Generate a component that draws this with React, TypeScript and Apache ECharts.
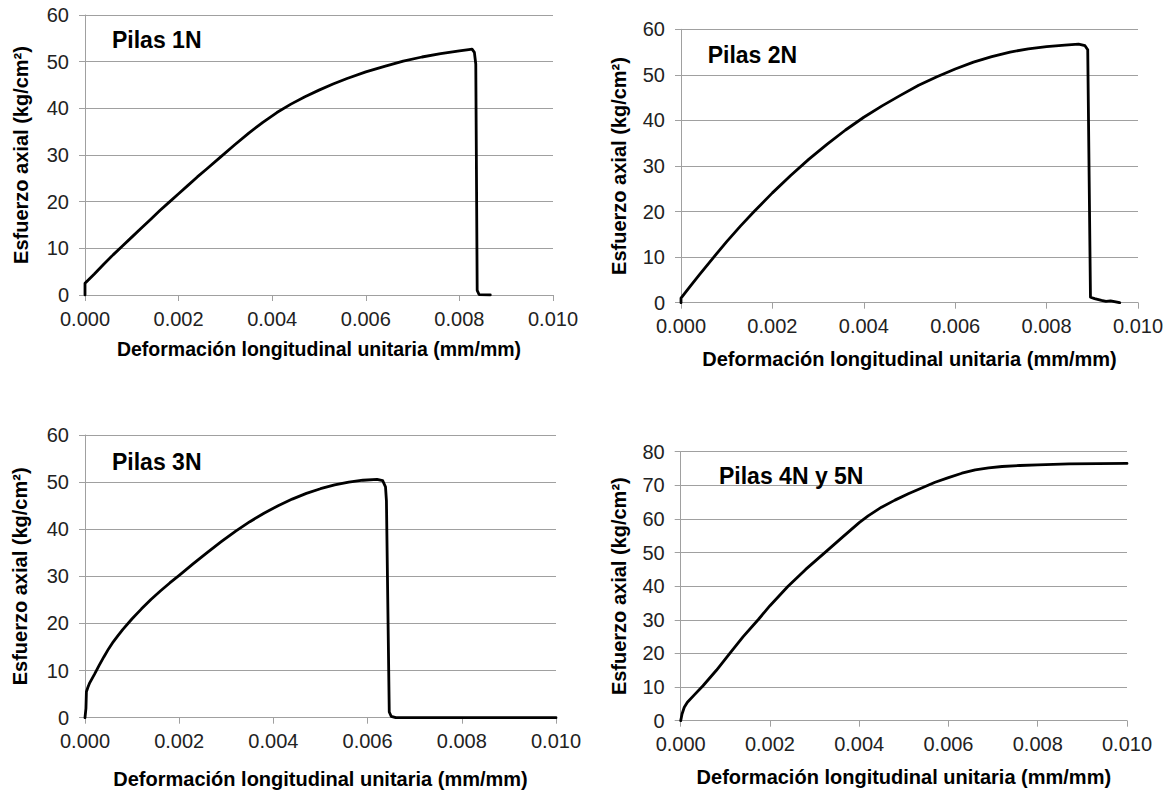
import React, { useEffect, useRef } from "react";
import * as echarts from "echarts";

// Deformación longitudinal unitaria (mm/mm) vs Esfuerzo axial (kg/cm²)
const pilas1N: [number, number][] = [
  [0, 0], [0, 2.5], [0.0002, 4.5], [0.0004, 6.6], [0.0006, 8.6], [0.0008, 10.5],
  [0.001, 12.4], [0.0012, 14.3], [0.0014, 16.2], [0.0016, 18.1], [0.0018, 19.9],
  [0.002, 21.7], [0.0022, 23.5], [0.0024, 25.3], [0.0026, 27.0], [0.0029, 29.6],
  [0.0032, 32.2], [0.0035, 34.7], [0.0038, 37.0], [0.0041, 39.1], [0.0044, 40.9],
  [0.0047, 42.5], [0.005, 43.9], [0.0053, 45.2], [0.0056, 46.4], [0.006, 47.8],
  [0.0064, 49.0], [0.0068, 50.1], [0.0072, 51.0], [0.0076, 51.7], [0.008, 52.3],
  [0.0082, 52.6], [0.00827, 52.7], [0.00832, 52.0], [0.00835, 49.5], [0.00838, 1.0],
  [0.00842, 0.1], [0.00866, 0],
];
const pilas2N: [number, number][] = [
  [0, 0], [0, 1], [0.0002, 3.6], [0.0004, 6.1], [0.0007, 9.8], [0.001, 13.4],
  [0.0013, 16.8], [0.0016, 20.0], [0.002, 24.1], [0.0024, 27.9], [0.0028, 31.5],
  [0.0032, 34.8], [0.0036, 37.9], [0.004, 40.7], [0.0044, 43.2], [0.0048, 45.5],
  [0.0052, 47.7], [0.0056, 49.6], [0.006, 51.3], [0.0064, 52.8], [0.0068, 54.0],
  [0.0072, 55.0], [0.0076, 55.7], [0.008, 56.2], [0.0084, 56.55], [0.0087, 56.75],
  [0.00884, 56.4], [0.0089, 55.5], [0.00896, 1.2], [0.00905, 0.9], [0.0092, 0.5],
  [0.0093, 0.3], [0.0094, 0.4], [0.0096, 0],
];
const pilas3N: [number, number][] = [
  [0, 0], [0.00002, 2], [0.00003, 5.5], [0.00006, 6.4], [0.0001, 7.4], [0.00015, 8.3],
  [0.0002, 9.2], [0.0003, 11.1], [0.0004, 12.9], [0.0005, 14.6], [0.0006, 16.1],
  [0.0007, 17.4], [0.0008, 18.7], [0.001, 21.0], [0.0012, 23.1], [0.0014, 25.1],
  [0.0016, 26.9], [0.0018, 28.6], [0.002, 30.2], [0.0023, 32.7], [0.0026, 35.1],
  [0.0029, 37.4], [0.0032, 39.6], [0.0035, 41.6], [0.0038, 43.4], [0.0041, 45.0],
  [0.0044, 46.4], [0.0047, 47.6], [0.005, 48.6], [0.0053, 49.4], [0.0056, 50.0],
  [0.0059, 50.4], [0.0062, 50.6], [0.00632, 50.3], [0.00638, 49], [0.0064, 46],
  [0.00646, 1.2], [0.0065, 0.3], [0.0066, 0], [0.01, 0],
];
const pilas4N5N: [number, number][] = [
  [0, 0], [0.00003, 2], [0.00008, 4], [0.00015, 5.5], [0.0003, 7.6], [0.0005, 10.4],
  [0.0008, 15], [0.0011, 20], [0.0014, 25], [0.00174, 30.1], [0.002, 34.2],
  [0.0024, 39.9], [0.0028, 45], [0.00323, 50], [0.0036, 54.3], [0.004, 58.9],
  [0.0042, 60.9], [0.0045, 63.5], [0.0048, 65.6], [0.0051, 67.5], [0.0054, 69.2],
  [0.0057, 70.9], [0.006, 72.3], [0.0063, 73.6], [0.0066, 74.6], [0.0069, 75.2],
  [0.0072, 75.6], [0.0076, 75.9], [0.008, 76.1], [0.0087, 76.4], [0.01, 76.5],
];

const panelTitles = ["Pilas 1N", "Pilas 2N", "Pilas 3N", "Pilas 4N y 5N"];
const yMaxes = [60, 60, 60, 80];
const xTitle = "Deformación longitudinal unitaria (mm/mm)";
const yTitle = "Esfuerzo axial (kg/cm²)";

const FONT = "'Liberation Sans', Arial, sans-serif";

export default function App() {
  const ref = useRef<HTMLDivElement>(null);
  useEffect(() => {
    if (!ref.current) return;
    const chart = echarts.init(ref.current, undefined, { renderer: "svg" });
    const seriesData = [pilas1N, pilas2N, pilas3N, pilas4N5N];
    const grids = [
      { left: 85, top: 15, width: 468, height: 280 },
      { left: 681, top: 29.3, width: 457, height: 273.4 },
      { left: 85, top: 435, width: 471, height: 282.7 },
      { left: 680.7, top: 451.7, width: 446.3, height: 269 },
    ];
    const xLabelMargins = [14, 13.5, 13.3, 13.3];
    const xNameGaps = [44, 46, 51, 46];
    const xNameSizes = [19.5, 20, 20, 20];
    const yNameGaps = [54, 52, 55, 51.7];
    const titlePos = [
      { left: 112, top: 28.5 },
      { left: 707.7, top: 43.5 },
      { left: 112, top: 450 },
      { left: 719, top: 464.5 },
    ];
    const gray = "#a0a0a0";
    const option: any = {
      animation: false,
      backgroundColor: "#fff",
      title: panelTitles.map((t, i) => ({
        text: t,
        left: titlePos[i].left,
        top: titlePos[i].top,
        padding: 0,
        textStyle: { fontFamily: FONT, fontSize: 23, fontWeight: "bold", color: "#000" },
      })),
      grid: grids.map((g) => ({ ...g, containLabel: false })),
      xAxis: grids.map((_, i) => ({
        type: "value",
        gridIndex: i,
        min: 0,
        max: 0.01,
        interval: 0.002,
        name: xTitle,
        nameLocation: "middle",
        nameGap: xNameGaps[i],
        nameTextStyle: { fontFamily: FONT, fontSize: xNameSizes[i], fontWeight: "bold", color: "#000" },
        axisLine: { show: true, onZero: false, lineStyle: { color: gray, width: 1 } },
        axisTick: { show: true, inside: false, length: 6, lineStyle: { color: gray } },
        axisLabel: {
          margin: xLabelMargins[i],
          fontFamily: FONT,
          fontSize: 20,
          color: "#222",
          showMinLabel: true,
          showMaxLabel: true,
          formatter: (v: number) => v.toFixed(3),
        },
        splitLine: { show: false },
      })),
      yAxis: grids.map((_, i) => ({
        type: "value",
        gridIndex: i,
        min: 0,
        max: yMaxes[i],
        interval: 10,
        name: yTitle,
        nameLocation: "middle",
        nameGap: yNameGaps[i],
        nameTextStyle: { fontFamily: FONT, fontSize: 20, fontWeight: "bold", color: "#000" },
        axisLine: { show: true, lineStyle: { color: gray, width: 1 } },
        axisTick: { show: true, inside: false, length: 6, lineStyle: { color: gray } },
        axisLabel: { margin: 16, fontFamily: FONT, fontSize: 20, color: "#222" },
        splitLine: { show: true, lineStyle: { color: gray, width: 1 } },
      })),
      series: seriesData.map((d, i) => ({
        type: "line",
        xAxisIndex: i,
        yAxisIndex: i,
        data: d,
        showSymbol: false,
        symbol: "none",
        lineStyle: { color: "#000", width: 2.8, cap: "round", join: "round" },
        silent: true,
      })),
    };
    chart.setOption(option);
    return () => chart.dispose();
  }, []);
  return (
    <div
      ref={ref}
      style={{ position: "absolute", left: 0, top: 0, width: 1168, height: 790, background: "#fff" }}
    />
  );
}
